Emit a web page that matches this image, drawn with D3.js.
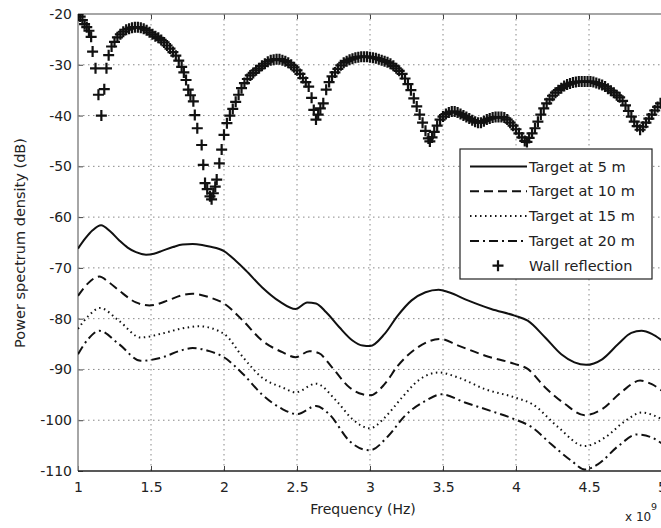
<!DOCTYPE html>
<html><head><meta charset="utf-8">
<script src="https://cdn.jsdelivr.net/npm/d3@7"></script>
<style>
html,body{margin:0;padding:0;background:#fff;}
svg{display:block;}
text{font-family:"DejaVu Sans",sans-serif;fill:#222;}
</style></head>
<body>
<svg id="chart" width="661" height="528"></svg>
<script>
// ---- data ----
const xTicks = [1, 1.5, 2, 2.5, 3, 3.5, 4, 4.5, 5];
const xTickLabels = ["1", "1.5", "2", "2.5", "3", "3.5", "4", "4.5", "5"];
const yTicks = [-110, -100, -90, -80, -70, -60, -50, -40, -30, -20];
const yTickLabels = ["-110", "-100", "-90", "-80", "-70", "-60", "-50", "-40", "-30", "-20"];
const seriesNames = ["Target at 5 m", "Target at 10 m", "Target at 15 m", "Target at 20 m", "Wall reflection"];

const t5Freq = [1.00,1.05,1.10,1.158,1.22,1.283,1.34,1.397,1.466,1.52,1.58,1.65,1.717,1.785,1.85,1.90,2.00,2.08,2.15,2.26,2.38,2.49,2.57,2.63,2.70,2.79,2.88,2.95,3.00,3.10,3.19,3.285,3.38,3.47,3.54,3.67,3.83,3.99,4.08,4.20,4.31,4.40,4.48,4.59,4.70,4.79,4.86,4.93,5.00];
const t5Val  = [-66.2,-64.2,-62.6,-61.6,-62.8,-64.6,-66.0,-66.9,-67.4,-67.2,-66.6,-65.9,-65.4,-65.3,-65.5,-65.8,-66.7,-68.6,-70.5,-73.8,-76.6,-78.1,-76.8,-77.0,-78.75,-81.7,-84.3,-85.3,-85.4,-83.0,-79.4,-76.4,-74.8,-74.3,-74.8,-76.4,-78.1,-79.4,-80.4,-83.7,-87.0,-88.6,-89.1,-88.0,-85.0,-82.8,-82.4,-83.0,-84.3];

const t10Freq = [1.00,1.07,1.146,1.21,1.283,1.397,1.49,1.625,1.70,1.785,1.90,2.00,2.13,2.26,2.40,2.49,2.585,2.65,2.74,2.86,2.95,3.00,3.10,3.19,3.31,3.48,3.605,3.79,3.99,4.08,4.20,4.335,4.47,4.59,4.72,4.85,4.93,5.00];
const t10Val  = [-75.5,-73.0,-71.7,-72.8,-74.5,-76.8,-77.4,-76.3,-75.5,-75.1,-75.8,-77.0,-80.4,-84.3,-86.6,-87.6,-86.4,-86.8,-89.6,-93.55,-94.9,-95.1,-92.9,-89.3,-86.0,-84.0,-85.3,-87.3,-88.9,-89.9,-93.55,-96.8,-99.0,-97.8,-94.5,-92.2,-92.9,-94.2];

const t15Freq = [1.00,1.07,1.15,1.28,1.43,1.58,1.70,1.83,2.00,2.13,2.26,2.40,2.49,2.63,2.77,2.88,3.00,3.10,3.22,3.33,3.47,3.605,3.79,3.99,4.11,4.29,4.47,4.61,4.75,4.86,5.00];
const t15Val  = [-82.0,-79.5,-77.9,-80.4,-83.7,-82.9,-82.0,-81.5,-83.0,-87.6,-91.6,-93.55,-94.5,-92.8,-96.2,-99.8,-101.6,-99.5,-95.5,-92.2,-90.6,-91.6,-93.9,-95.5,-96.8,-101.4,-105.1,-103.4,-100.1,-98.5,-99.8];

const t20Freq = [1.00,1.07,1.146,1.28,1.43,1.58,1.70,1.785,1.90,2.00,2.13,2.26,2.40,2.50,2.63,2.72,2.86,2.95,3.00,3.125,3.24,3.38,3.49,3.65,3.83,3.99,4.11,4.24,4.38,4.47,4.56,4.70,4.83,4.93,5.00];
const t20Val  = [-87.0,-84.0,-82.4,-85.0,-88.3,-87.6,-86.3,-85.8,-86.4,-87.6,-90.9,-94.9,-97.8,-98.8,-97.2,-98.8,-104.1,-105.7,-105.9,-103.1,-99.1,-96.2,-94.9,-96.5,-98.2,-99.8,-101.4,-104.7,-108.0,-109.7,-108.7,-105.1,-102.8,-103.4,-104.6];

const wallFreq = [1.000,1.015,1.030,1.045,1.060,1.075,1.090,1.100,1.120,1.140,1.160,1.180,1.195,1.210,1.230,1.250,1.270,1.290,1.310,1.330,1.350,1.370,1.390,1.410,1.430,1.450,1.470,1.490,1.510,1.530,1.550,1.570,1.590,1.610,1.630,1.650,1.670,1.690,1.710,1.725,1.740,1.755,1.770,1.790,1.800,1.817,1.847,1.858,1.870,1.885,1.904,1.915,1.927,1.940,1.950,1.968,1.984,2.000,2.020,2.040,2.060,2.080,2.100,2.120,2.140,2.160,2.180,2.200,2.220,2.240,2.260,2.280,2.300,2.320,2.340,2.360,2.380,2.400,2.420,2.440,2.460,2.480,2.500,2.520,2.540,2.560,2.580,2.600,2.615,2.630,2.645,2.660,2.680,2.700,2.720,2.740,2.760,2.780,2.800,2.820,2.840,2.860,2.880,2.900,2.920,2.940,2.960,2.980,3.000,3.020,3.040,3.060,3.080,3.100,3.120,3.140,3.160,3.180,3.200,3.220,3.240,3.260,3.280,3.300,3.320,3.340,3.360,3.380,3.400,3.410,3.425,3.440,3.460,3.480,3.500,3.520,3.540,3.560,3.580,3.600,3.620,3.640,3.660,3.680,3.700,3.720,3.740,3.760,3.780,3.800,3.820,3.840,3.860,3.880,3.900,3.920,3.940,3.960,3.980,4.000,4.020,4.040,4.060,4.075,4.090,4.110,4.130,4.150,4.170,4.190,4.210,4.230,4.250,4.270,4.290,4.310,4.330,4.350,4.370,4.390,4.410,4.430,4.450,4.470,4.490,4.510,4.530,4.550,4.570,4.590,4.610,4.630,4.650,4.670,4.690,4.710,4.730,4.750,4.770,4.790,4.810,4.830,4.850,4.870,4.890,4.910,4.930,4.950,4.970,4.990];
const wallVal  = [-20.0,-20.5,-21.2,-22.0,-22.6,-23.3,-24.5,-27.4,-30.7,-35.9,-40.0,-34.8,-30.7,-28.1,-26.4,-25.5,-24.6,-24.0,-23.5,-23.1,-22.9,-22.7,-22.6,-22.6,-22.7,-22.9,-23.2,-23.6,-24.0,-24.4,-24.7,-25.1,-25.6,-26.2,-26.8,-27.5,-28.2,-29.2,-30.4,-31.5,-33.0,-34.9,-36.0,-37.2,-39.9,-42.5,-45.8,-49.7,-53.3,-54.5,-55.9,-56.5,-55.3,-54.0,-52.6,-49.4,-46.7,-43.8,-41.5,-40.0,-38.7,-37.3,-35.9,-34.6,-33.6,-32.8,-32.1,-31.6,-31.1,-30.7,-30.2,-29.8,-29.4,-29.1,-29.0,-28.9,-28.9,-29.1,-29.3,-29.6,-30.0,-30.5,-31.1,-31.8,-32.6,-33.4,-34.3,-36.5,-38.9,-40.8,-39.8,-38.6,-37.6,-34.9,-33.4,-32.3,-31.5,-30.8,-30.1,-29.6,-29.3,-29.0,-28.8,-28.6,-28.5,-28.4,-28.4,-28.4,-28.5,-28.6,-28.7,-28.9,-29.1,-29.3,-29.5,-29.8,-30.2,-30.7,-31.2,-31.8,-32.7,-33.8,-35.0,-36.6,-38.2,-39.8,-41.4,-43.0,-44.5,-45.1,-44.3,-43.2,-42.0,-40.8,-40.2,-39.7,-39.4,-39.2,-39.2,-39.4,-39.7,-40.0,-40.3,-40.6,-40.9,-41.2,-41.4,-41.4,-41.1,-40.8,-40.6,-40.4,-40.3,-40.3,-40.3,-40.4,-40.8,-41.4,-42.0,-42.7,-43.5,-44.3,-45.0,-45.2,-44.4,-43.5,-42.5,-41.2,-39.8,-38.6,-37.6,-36.8,-36.1,-35.5,-35.0,-34.6,-34.2,-33.9,-33.7,-33.5,-33.4,-33.3,-33.3,-33.3,-33.3,-33.3,-33.4,-33.6,-33.8,-34.0,-34.3,-34.7,-35.1,-35.5,-36.0,-36.4,-37.1,-38.0,-39.1,-40.2,-41.2,-42.1,-42.8,-42.2,-41.4,-40.6,-39.8,-39.0,-38.3,-37.6];

// ---- layout ----
const svg = d3.select("#chart");
const L = 78, R = 662, T = 14, B = 471;
const x = d3.scaleLinear().domain([1, 5]).range([L, R]);
const y = d3.scaleLinear().domain([-110, -20]).range([B, T]);

svg.append("defs").append("clipPath").attr("id", "clip")
  .append("rect").attr("x", L).attr("y", T).attr("width", R - L).attr("height", B - T);

// grid
const grid = svg.append("g");
grid.selectAll("line.gx").data(xTicks.slice(1, -1)).enter().append("line")
  .attr("x1", d => x(d)).attr("x2", d => x(d)).attr("y1", T).attr("y2", B)
  .attr("stroke", "#888").attr("stroke-width", 1).attr("stroke-dasharray", "1.5,3.5");
grid.selectAll("line.gy").data(yTicks.slice(1, -1)).enter().append("line")
  .attr("y1", d => y(d)).attr("y2", d => y(d)).attr("x1", L).attr("x2", R)
  .attr("stroke", "#888").attr("stroke-width", 1).attr("stroke-dasharray", "1.5,3.5");

// axes
const fmtX = d => xTickLabels[xTicks.indexOf(d)];
const fmtY = d => yTickLabels[yTicks.indexOf(d)];
const gx = svg.append("g").attr("transform", `translate(0,${B})`)
  .call(d3.axisBottom(x).tickValues(xTicks).tickFormat(fmtX).tickSize(-5).tickPadding(11));
const gxTop = svg.append("g").attr("transform", `translate(0,${T})`)
  .call(d3.axisTop(x).tickValues(xTicks).tickFormat("").tickSize(-5));
const gy = svg.append("g").attr("transform", `translate(${L},0)`)
  .call(d3.axisLeft(y).tickValues(yTicks).tickFormat(fmtY).tickSize(-5).tickPadding(6));
[gx, gxTop, gy].forEach(g => {
  g.select(".domain").remove();
  g.selectAll(".tick line").attr("stroke", "#444").attr("stroke-width", 1);
  g.selectAll("text").attr("font-size", 14).attr("font-family", "DejaVu Sans").attr("fill", "#222");
});

// frame
svg.append("line").attr("x1", L).attr("x2", R).attr("y1", T).attr("y2", T).attr("stroke", "#888").attr("stroke-width", 1.5);
svg.append("line").attr("x1", L).attr("x2", L).attr("y1", T).attr("y2", B).attr("stroke", "#888").attr("stroke-width", 1.5);
svg.append("line").attr("x1", L).attr("x2", R).attr("y1", B).attr("y2", B).attr("stroke", "#222").attr("stroke-width", 1.6);

// lines
const plot = svg.append("g").attr("clip-path", "url(#clip)");
const lineGen = d3.line().x(d => x(d[0])).y(d => y(d[1])).curve(d3.curveMonotoneX);
const lineSeries = [
  {f: t5Freq, v: t5Val, dash: null},
  {f: t10Freq, v: t10Val, dash: "9,5"},
  {f: t15Freq, v: t15Val, dash: "1.5,3.5"},
  {f: t20Freq, v: t20Val, dash: "9,4,2,4"}
];
lineSeries.forEach(s => {
  plot.append("path").datum(d3.zip(s.f, s.v))
    .attr("d", lineGen).attr("fill", "none").attr("stroke", "#111")
    .attr("stroke-width", 2).attr("stroke-dasharray", s.dash);
});

// wall reflection markers
const plus = "M-5.5,0H5.5M0,-5.5V5.5";
plot.selectAll("path.wall").data(d3.zip(wallFreq, wallVal)).enter().append("path")
  .attr("class", "wall").attr("d", plus)
  .attr("transform", d => `translate(${x(d[0])},${y(d[1])})`)
  .attr("stroke", "#111").attr("stroke-width", 2.2).attr("fill", "none");

// legend
const lg = svg.append("g");
lg.append("rect").attr("x", 460).attr("y", 149).attr("width", 192).attr("height", 130)
  .attr("fill", "#fff").attr("stroke", "#222").attr("stroke-width", 1.2);
const dashes = [null, "9,5", "1.5,3.5", "9,4,2,4"];
seriesNames.forEach((name, i) => {
  const yy = 166.5 + i * 24.8;
  if (i < 4) {
    lg.append("line").attr("x1", 470).attr("x2", 527).attr("y1", yy).attr("y2", yy)
      .attr("stroke", "#111").attr("stroke-width", 2).attr("stroke-dasharray", dashes[i]);
  } else {
    lg.append("path").attr("d", plus).attr("transform", `translate(498,${yy})`)
      .attr("stroke", "#111").attr("stroke-width", 2.2);
  }
  lg.append("text").attr("x", 529).attr("y", yy + 5).attr("font-size", 14.5).text(name);
});

// axis labels
svg.append("text").attr("x", 363).attr("y", 514).attr("text-anchor", "middle")
  .attr("font-size", 14).text("Frequency (Hz)");
svg.append("text").attr("transform", "translate(25,243) rotate(-90)").attr("text-anchor", "middle")
  .attr("font-size", 14.5).text("Power spectrum density (dB)");
svg.append("text").attr("x", 625).attr("y", 521).attr("font-size", 12).text("x 10");
svg.append("text").attr("x", 651).attr("y", 510).attr("font-size", 9.5).text("9");
</script>
</body></html>
